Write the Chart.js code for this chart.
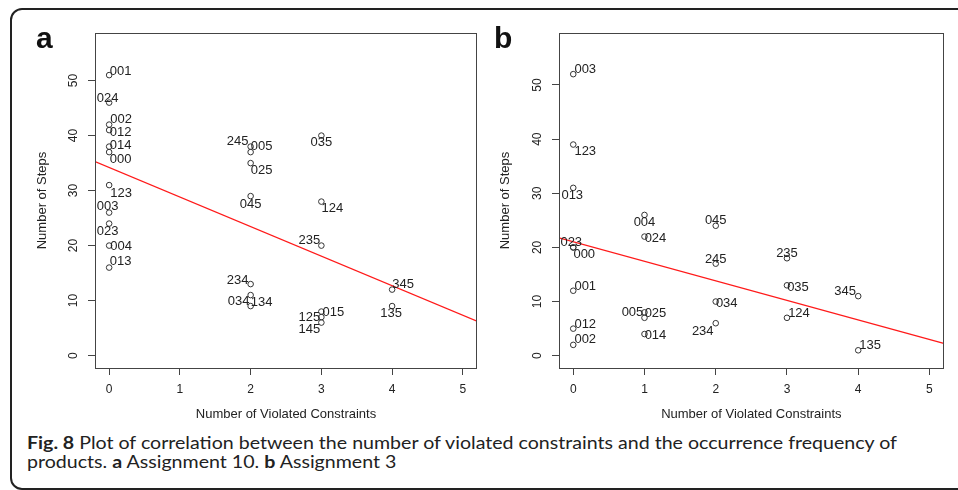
<!DOCTYPE html>
<html><head><meta charset="utf-8">
<script src="https://cdn.jsdelivr.net/npm/chart.js@4"></script>
<style>
html,body{margin:0;padding:0;background:#fff;width:958px;height:490px;overflow:hidden;position:relative;}
#frame{position:absolute;left:10px;top:8px;width:990px;height:482px;border:2px solid #222;border-radius:12px;box-sizing:border-box;}
canvas{position:absolute;top:0;}
#ca{left:0;}
#cb{left:482px;}
.pl{position:absolute;font:bold 30px "Liberation Sans",Arial,sans-serif;line-height:30px;color:#111;}
#cap{position:absolute;left:27px;top:434px;font:16.5px Lato,"Open Sans",sans-serif;line-height:18.5px;color:#222;white-space:nowrap;transform-origin:0 0;}
#cap b{font-weight:bold;}
</style></head>
<body>
<div id="frame"></div>
<canvas id="ca" width="482" height="430"></canvas>
<canvas id="cb" width="476" height="430"></canvas>
<div class="pl" style="left:36px;top:22.6px;">a</div>
<div class="pl" style="left:494px;top:22.6px;">b</div>
<div id="cap"><span id="l1"><b>Fig. 8</b> Plot of correlation between the number of violated constraints and the occurrence frequency of</span><br><span>products. <b>a</b> Assignment 10. <b>b</b> Assignment 3</span></div>
<script>
// ---- data: panel a (Assignment 10)
const catA = ['001','024','002','012','014','000','123','003','023','004','013','245','005','025','045','234','034','134','035','124','235','015','125','145','345','135'];
const xA   = [0,0,0,0,0,0,0,0,0,0,0, 2,2,2,2,2,2,2, 3,3,3,3,3,3, 4,4];
const yA   = [51,46,42,41,38,37,31,26,24,20,16, 38,37,35,29,13,11,9, 40,28,20,8,7,6, 12,9];
// ---- data: panel b (Assignment 3)
const catB = ['003','123','013','023','000','001','012','002','004','024','005','025','014','045','245','034','234','235','035','124','345','135'];
const xB   = [0,0,0,0,0,0,0,0, 1,1,1,1,1, 2,2,2,2, 3,3,3, 4,4];
const yB   = [52,39,31,20,20,12,5,2, 26,22,8,7,4, 24,17,10,6, 18,13,7, 11,1];
// ---- tick labels
const xTicks = [0,1,2,3,4,5];
const yTicks = [0,10,20,30,40,50];

// ---- label placement (pixel offsets of label centre from its point)
const offA = [[11.5,-4],[-1.5,-4],[12,-5],[11.5,2],[11.5,-0.7],[11.5,7],[12,8],[-1.5,-6],[-1.5,8],[12,1],[11.5,-6],
              [-13,-5],[11,-5.5],[11,7.5],[0,8],[-13,-4],[-12,6],[11,-3.5],
              [0,7],[11,7],[-12,-5],[12,1],[-12,0],[-12,7],[11,-5],[-1,7]];
const offB = [[12,-5],[12,7],[-1,8],[-2,-5],[11,7.5],[12,-4],[12,-4.5],[12,-5],
              [0,7.5],[11,2],[-12,0],[11,-4.5],[11,1],
              [0,-5],[0,-4.5],[11,2],[-13,8],
              [0,-5],[11,2],[12,-4.5],[-13,-5],[12,-5]];

const FONT = '"Liberation Sans", Arial, sans-serif';

function fit(xs, ys){
  const n = xs.length;
  const mx = xs.reduce((a,b)=>a+b,0)/n, my = ys.reduce((a,b)=>a+b,0)/n;
  let sxy=0, sxx=0;
  for(let i=0;i<n;i++){ sxy += (xs[i]-mx)*(ys[i]-my); sxx += (xs[i]-mx)*(xs[i]-mx); }
  const b = sxy/sxx; return {a: my - b*mx, b};
}

function drawDecor(chart, cats, offs){
  const ctx = chart.ctx, ca = chart.chartArea;
  ctx.save();
  // box
  ctx.strokeStyle = '#444'; ctx.lineWidth = 1;
  ctx.strokeRect(Math.round(ca.left)+0.5, Math.round(ca.top)+0.5, Math.round(ca.right-ca.left)-1, Math.round(ca.bottom-ca.top));
  // rotated y tick labels
  const ys = chart.scales.y;
  ctx.fillStyle = '#222'; ctx.font = '12px ' + FONT;
  ctx.textAlign = 'center'; ctx.textBaseline = 'middle';
  ys.ticks.forEach(t => {
    const py = ys.getPixelForValue(t.value);
    ctx.save(); ctx.translate(ca.left - 21, py); ctx.rotate(-Math.PI/2);
    ctx.fillText(String(t.value), 0, 0); ctx.restore();
  });
  // point labels
  const meta = chart.getDatasetMeta(1);
  ctx.font = '13px ' + FONT; ctx.fillStyle = '#222';
  meta.data.forEach((el, i) => {
    const o = offs[i];
    ctx.fillText(cats[i], el.x + o[0], el.y + o[1]);
  });
  ctx.restore();
}

function makeChart(id, xs, ys, cats, offs, yMin, yMax, padL, padR, yTitlePad){
  const f = fit(xs, ys);
  const xMin = -0.2, xMax = 5.2;
  const pts = xs.map((x,i)=>({x, y: ys[i]}));
  const line = [xMin, xMax].map(x => ({x, y: f.a + f.b*x}));
  return new Chart(document.getElementById(id), {
    type:'scatter',
    data:{datasets:[
      {type:'line', data: line, borderColor:'#ff1a1a', borderWidth:1.3, pointRadius:0, fill:false, order:0},
      {type:'scatter', data: pts, pointRadius:2.8, pointBorderColor:'#333', pointBackgroundColor:'rgba(0,0,0,0)', pointBorderWidth:1, order:1}
    ]},
    options:{
      animation:false, responsive:false, events:[],
      layout:{padding:{left:padL, top:33, right:padR, bottom:0}},
      plugins:{legend:{display:false}, tooltip:{enabled:false}},
      scales:{
        x:{type:'linear', min:xMin, max:xMax,
           afterBuildTicks: s => { s.ticks = xTicks.map(v=>({value:v})); },
           afterFit: s => { s.height = 62; },
           grid:{display:true, drawOnChartArea:false, drawTicks:true, tickLength:7, color:'#444', lineWidth:1},
           border:{display:false},
           ticks:{font:{family:FONT, size:12}, color:'#222', padding:7.8, maxRotation:0, minRotation:0, autoSkip:false},
           title:{display:true, text:'Number of Violated Constraints', color:'#222', font:{family:FONT, size:13}, padding:{top:0, bottom:8.2}}
        },
        y:{type:'linear', min:yMin, max:yMax,
           afterBuildTicks: s => { s.ticks = yTicks.map(v=>({value:v})); },
           afterFit: s => { s.width = 65; },
           grid:{display:true, drawOnChartArea:false, drawTicks:true, tickLength:7, color:'#444', lineWidth:1},
           border:{display:false},
           ticks:{display:false},
           title:{display:true, text:'Number of Steps', color:'#222', font:{family:FONT, size:13}, padding:{top:yTitlePad, bottom:0}}
        }
      }
    },
    plugins:[{ id:'decor', afterDraw(chart){ drawDecor(chart, cats, offs); } }]
  });
}

makeChart('ca', xA, yA, catA, offA, -2.26, 58.66, 30, 2, 4.2);
makeChart('cb', xB, yB, catB, offB, -2.27, 59.6, 12, 14.3, 3.2);

// fit caption width
const cap = document.getElementById('cap');
const w = document.getElementById('l1').getBoundingClientRect().width;
cap.style.transform = 'scaleX(' + (870 / w) + ')';
</script>
</body></html>
